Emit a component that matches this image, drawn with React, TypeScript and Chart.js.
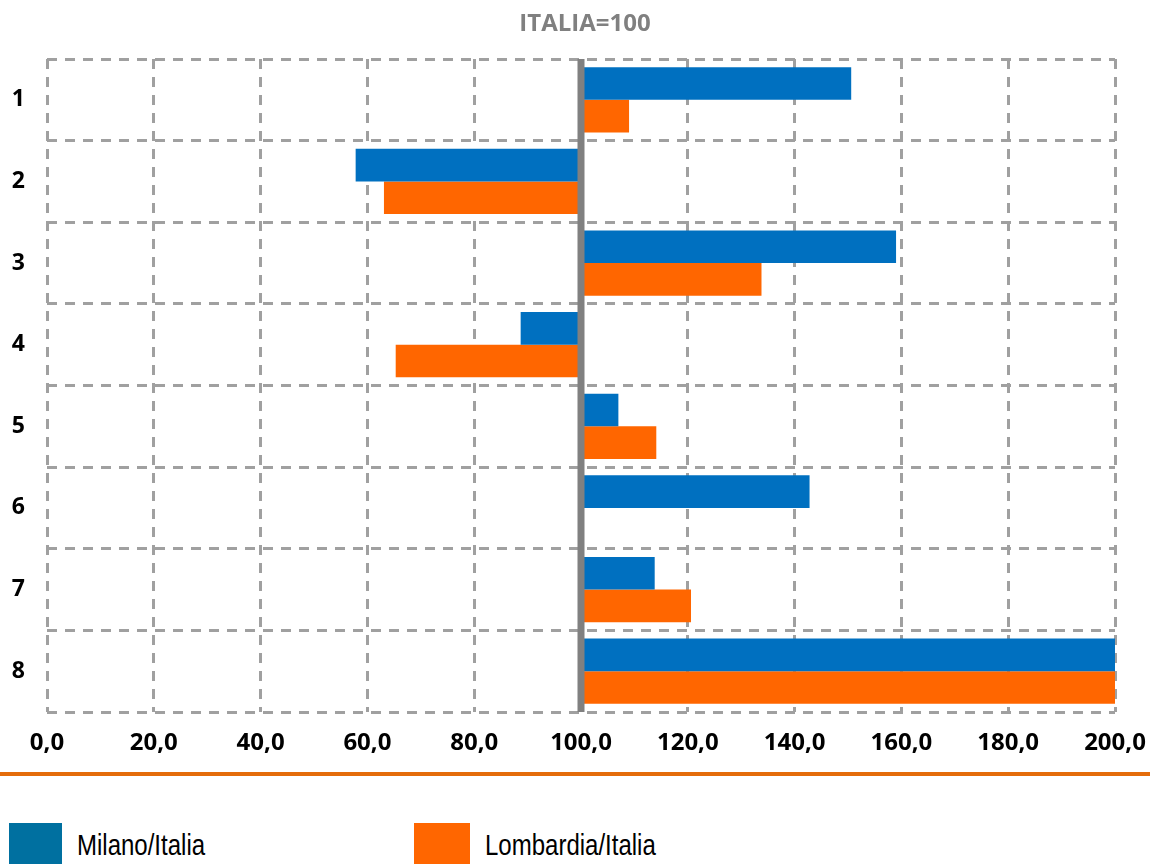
import React, { useEffect, useRef } from "react";
import { Chart, registerables } from "chart.js";

Chart.register(...registerables);

const categories = ["1", "2", "3", "4", "5", "6", "7", "8"];
const milano = [150.6, 57.8, 159.0, 88.7, 107.0, 142.8, 113.8, 215.0];
const lombardia = [109.0, 63.1, 133.8, 65.3, 114.1, 100.0, 120.6, 225.0];
const BASE = 100;
const xTicks = [0, 20, 40, 60, 80, 100, 120, 140, 160, 180, 200];
const titleText = "ITALIA=100";
const seriesNames = ["Milano/Italia", "Lombardia/Italia"];

const BLUE = "#0070C0";
const ORANGE = "#FF6600";
const FONT = "'Open Sans', 'DejaVu Sans', sans-serif";

const baseLinePlugin = {
  id: "baseLine",
  afterDatasetsDraw(chart: any) {
    const { ctx, chartArea, scales } = chart;
    const x = scales.x.getPixelForValue(BASE);
    ctx.save();
    ctx.strokeStyle = "#808080";
    ctx.lineWidth = 7;
    ctx.beginPath();
    ctx.moveTo(x, chartArea.top);
    ctx.lineTo(x, chartArea.bottom);
    ctx.stroke();
    ctx.restore();
  },
  afterDraw(chart: any) {
    const { ctx, chartArea } = chart;
    ctx.save();
    ctx.fillStyle = "#808080";
    ctx.font = `bold 24px ${FONT}`;
    ctx.textAlign = "center";
    ctx.textBaseline = "middle";
    ctx.fillText(titleText, (chartArea.left + chartArea.right) / 2 + 4, 24);
    ctx.restore();
  },
};

export default function App() {
  const ref = useRef<HTMLCanvasElement | null>(null);
  useEffect(() => {
    if (!ref.current) return;
    const chart = new Chart(ref.current, {
      type: "bar",
      data: {
        labels: categories,
        datasets: [
          {
            label: seriesNames[0],
            data: milano.map((v) => [BASE, v]) as any,
            backgroundColor: BLUE,
            borderWidth: 0,
            categoryPercentage: 0.8,
            barPercentage: 1,
          },
          {
            label: seriesNames[1],
            data: lombardia.map((v) => [BASE, v]) as any,
            backgroundColor: ORANGE,
            borderWidth: 0,
            categoryPercentage: 0.8,
            barPercentage: 1,
          },
        ],
      },
      options: {
        indexAxis: "y",
        animation: false,
        responsive: false,
        maintainAspectRatio: false,
        layout: { padding: { top: 59, right: 35, left: 0, bottom: 0 } },
        plugins: {
          legend: { display: false },
          tooltip: { enabled: false },
          title: { display: false },
        },
        scales: {
          x: {
            min: 0,
            max: 200,
            afterBuildTicks: (scale: any) => {
              scale.ticks = xTicks.map((v) => ({ value: v }));
            },
            afterFit: (scale: any) => {
              scale.height = 58;
              scale.paddingLeft = 0;
              scale.paddingRight = 0;
            },
            grid: {
              color: "#A0A0A0",
              lineWidth: 3,
              drawTicks: false,
            },
            border: { display: false, dash: [10, 8] },
            ticks: {
              color: "#000",
              font: { family: FONT, size: 24, weight: "bold" },
              padding: 17,
              maxRotation: 0,
              autoSkip: false,
              callback: (v: any) => Number(v).toFixed(1).replace(".", ","),
            },
          },
          y: {
            grid: {
              color: "#A0A0A0",
              lineWidth: 3,
              drawTicks: false,
              offset: true,
            },
            border: { display: false, dash: [10, 8] },
            afterFit: (scale: any) => {
              scale.width = 47;
              scale.paddingTop = 0;
              scale.paddingBottom = 0;
            },
            ticks: {
              color: "#000",
              font: { family: FONT, size: 23, weight: "bold" },
              padding: 22,
            },
          },
        },
      },
      plugins: [baseLinePlugin],
    });
    return () => chart.destroy();
  }, []);

  const legendText: React.CSSProperties = {
    position: "absolute",
    top: 827,
    fontFamily: "'Liberation Sans', Arial, sans-serif",
    fontSize: 30,
    color: "#000",
    lineHeight: "36px",
    whiteSpace: "nowrap",
    transform: "scaleX(0.8)",
    transformOrigin: "0 0",
  };

  return (
    <div style={{ position: "absolute", left: 0, top: 0, width: 1150, height: 864, background: "#fff", overflow: "hidden" }}>
      <canvas ref={ref} width={1150} height={770} style={{ position: "absolute", left: 0, top: 0 }} />
      <div style={{ position: "absolute", left: 0, top: 772, width: 1150, height: 4, background: "#E46C0A" }} />
      <div style={{ position: "absolute", left: 9, top: 823, width: 53, height: 50, background: "#0070A0" }} />
      <div style={{ ...legendText, left: 77 }}>{seriesNames[0]}</div>
      <div style={{ position: "absolute", left: 414, top: 823, width: 56, height: 50, background: ORANGE }} />
      <div style={{ ...legendText, left: 485 }}>{seriesNames[1]}</div>
    </div>
  );
}
